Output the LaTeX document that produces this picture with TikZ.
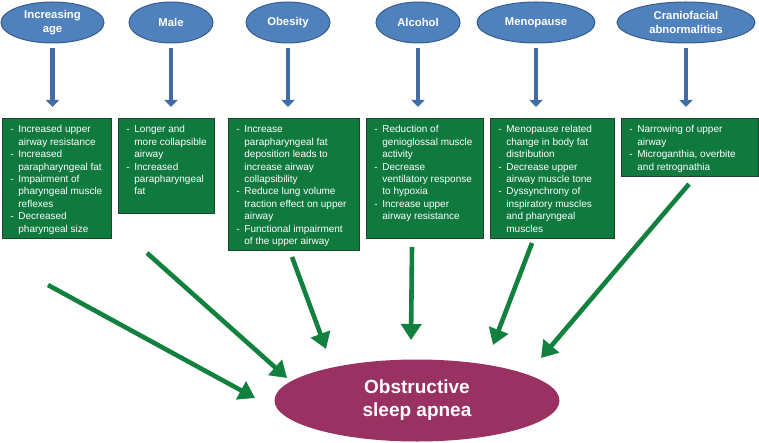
\documentclass[tikz,border=0pt]{standalone}
\usepackage{fontspec}
\setmainfont{Liberation Sans}
\usepackage{xcolor}
\usepackage{tikz}
\usetikzlibrary{arrows.meta, shapes.geometric}
\definecolor{riskblue}{RGB}{79,129,189}
\definecolor{riskedge}{RGB}{56,93,138}
\definecolor{arrowblue}{RGB}{68,108,164}
\definecolor{boxgreen}{RGB}{16,122,62}
\definecolor{boxedge}{RGB}{30,66,42}
\definecolor{arrowgreen}{RGB}{18,128,62}
\definecolor{osapurple}{RGB}{153,49,99}

% box body: width, height, rows of the list
\newcommand{\effecttext}[3]{%
  \begin{minipage}[c][#2pt][t]{#1pt}
  \vspace{5.8pt}\hspace*{8pt}%
  \begin{tabular}[t]{@{}p{8pt}@{}l@{}}#3\end{tabular}
  \end{minipage}}

\begin{document}
\begin{tikzpicture}[x=1pt, y=-1pt,
  risk/.style={ellipse, draw=riskedge, fill=riskblue, line width=1pt, inner sep=0pt,
    minimum height=41pt, text=white, align=center,
    font=\fontsize{11.3}{14.5}\selectfont\bfseries},
  effect/.style={draw=boxedge, fill=boxgreen, line width=0.8pt, inner sep=0pt,
    anchor=north west, text=white, font=\fontsize{10}{12.4}\selectfont},
  osa/.style={ellipse, fill=osapurple, inner sep=0pt, text=white, align=center,
    font=\fontsize{19}{23}\selectfont\bfseries},
  riskarrow/.style={draw=arrowblue, line width=4.6pt,
    -{Triangle[length=7pt, width=13pt]}, shorten <=5pt, shorten >=11pt},
  osaarrow/.style={draw=arrowgreen, line width=4.6pt,
    -{Triangle[length=16pt, width=20pt]}}]

\useasboundingbox (0,0) rectangle (759,443);

% risk factors
\node[risk, minimum width=103pt] (age) at (52.5,22.5) {Increasing\\age};
\node[risk, minimum width=84pt] (male) at (171,22.5) {Male};
\node[risk, minimum width=84pt] (obesity) at (288,22.5) {Obesity};
\node[risk, minimum width=84pt] (alcohol) at (418,22.5) {Alcohol};
\node[risk, minimum width=118pt] (menopause) at (536,22.5) {Menopause};
\node[risk, minimum width=138pt] (cranio) at (686,22.5) {Craniofacial\\abnormalities};

% mechanisms
\node[effect] (eff1) at (2,118) {\effecttext{109}{120}{%
  - & Increased upper\\ & airway resistance\\
  - & Increased\\ & parapharyngeal fat\\
  - & Impairment of\\ & pharyngeal muscle\\ & reflexes\\
  - & Decreased\\ & pharyngeal size}};
\node[effect] (eff2) at (118,118) {\effecttext{96}{95}{%
  - & Longer and\\ & more collapsible\\ & airway\\
  - & Increased\\ & parapharyngeal\\ & fat}};
\node[effect] (eff3) at (228,118) {\effecttext{131}{132}{%
  - & Increase\\ & parapharyngeal fat\\ & deposition leads to\\ & increase airway\\ & collapsibility\\
  - & Reduce lung volume\\ & traction effect on upper\\ & airway\\
  - & Functional impairment\\ & of the upper airway}};
\node[effect] (eff4) at (366,118) {\effecttext{117}{120}{%
  - & Reduction of\\ & genioglossal muscle\\ & activity\\
  - & Decrease\\ & ventilatory response\\ & to hypoxia\\
  - & Increase upper\\ & airway resistance}};
\node[effect] (eff5) at (490,118) {\effecttext{124}{120}{%
  - & Menopause related\\ & change in body fat\\ & distribution\\
  - & Decrease upper\\ & airway muscle tone\\
  - & Dyssynchrony of\\ & inspiratory muscles\\ & and pharyngeal\\ & muscles}};
\node[effect] (eff6) at (621,118) {\effecttext{137}{58}{%
  - & Narrowing of upper\\ & airway\\
  - & Microganthia, overbite\\ & and retrognathia}};

\node[osa, minimum width=285pt, minimum height=82pt] (apnea) at (417,400.5)
  {Obstructive\\sleep apnea};

% risk factor -> mechanism
\foreach \src/\dst in {age/eff1, male/eff2, obesity/eff3, alcohol/eff4,
  menopause/eff5, cranio/eff6}
  \draw[riskarrow] (\src.south) -- (\src.south |- \dst.north);

% mechanism -> OSA
\coordinate (from1) at (48,285);  \coordinate (to1) at (255,398);
\coordinate (from2) at (147,253); \coordinate (to2) at (287,378);
\coordinate (from3) at (292,257); \coordinate (to3) at (326,349);
\coordinate (from4) at (412,247); \coordinate (to4) at (411,340);
\coordinate (from5) at (532,243); \coordinate (to5) at (493,345);
\coordinate (from6) at (689,184); \coordinate (to6) at (541,358);
\foreach \i in {1,...,6}
  \draw[osaarrow] (from\i) -- (to\i);

\end{tikzpicture}
\end{document}
